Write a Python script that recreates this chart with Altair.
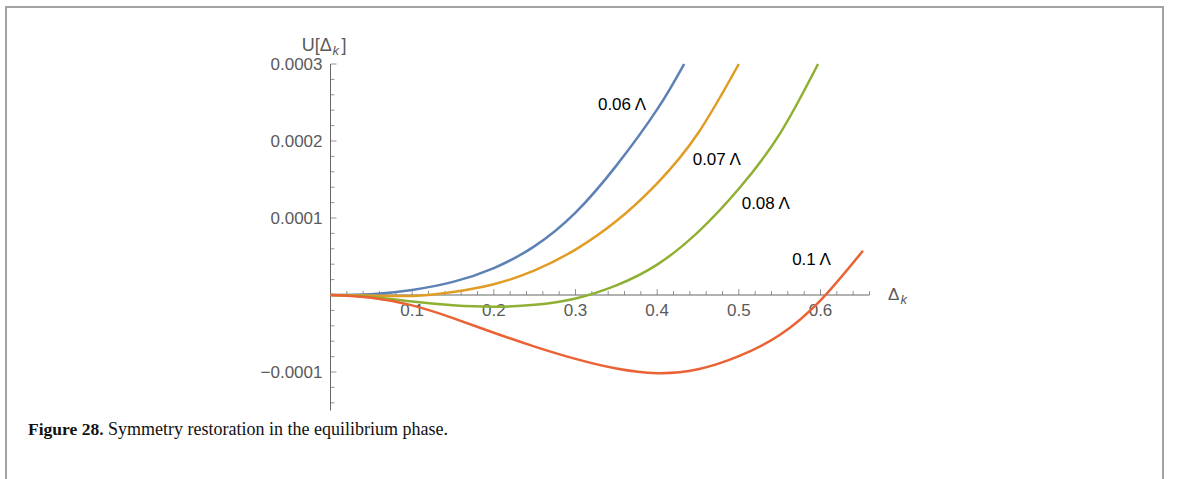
import altair as alt
import pandas as pd

# ---- data ----
series_names = ["0.06 Λ", "0.07 Λ", "0.08 Λ", "0.1 Λ"]
series_colors = ["#5E81B5", "#E19C24", "#8FB032", "#EB6235"]

blue_x = [0, 0.05, 0.1, 0.15, 0.2, 0.25, 0.3, 0.35, 0.4, 0.433]
blue_u = [0, 0.0000010, 0.0000065, 0.0000170, 0.0000350, 0.0000635, 0.0001070,
          0.0001680, 0.0002410, 0.0003]

orange_x = [0, 0.05, 0.1, 0.15, 0.2, 0.25, 0.3, 0.35, 0.4, 0.45, 0.5]
orange_u = [0, -0.0000008, -0.0000012, 0.0000040, 0.0000140, 0.0000320, 0.0000590,
            0.0000960, 0.0001450, 0.0002100, 0.0003]

green_x = [0, 0.05, 0.1, 0.15, 0.2, 0.25, 0.3, 0.35, 0.4, 0.45, 0.5, 0.55, 0.597]
green_u = [0, -0.0000025, -0.0000085, -0.0000133, -0.0000152, -0.0000128, -0.0000045,
           0.0000125, 0.0000395, 0.0000817, 0.0001380, 0.0002090, 0.0003]

red_x = [0, 0.05, 0.1, 0.15, 0.2, 0.25, 0.3, 0.35, 0.4, 0.45, 0.5, 0.55, 0.6, 0.652]
red_u = [0, -0.0000035, -0.0000135, -0.0000300, -0.0000490, -0.0000670, -0.0000830,
         -0.0000955, -0.0001015, -0.0000965, -0.0000795, -0.0000520, -0.0000070,
         0.0000575]

# curve label anchors (data units)
label_x = [0.357, 0.473, 0.533, 0.589]
label_u = [0.000247, 0.0001753, 0.0001182, 0.0000455]

# axes
x_major = [0.1, 0.2, 0.3, 0.4, 0.5, 0.6]
x_major_text = ["0.1", "0.2", "0.3", "0.4", "0.5", "0.6"]
x_minor = [0.02, 0.04, 0.06, 0.08, 0.12, 0.14, 0.16, 0.18, 0.22, 0.24, 0.26, 0.28,
           0.32, 0.34, 0.36, 0.38, 0.42, 0.44, 0.46, 0.48, 0.52, 0.54, 0.56, 0.58,
           0.62, 0.64, 0.66]
y_major = [-0.0001, 0.0001, 0.0002, 0.0003]
y_major_text = ["\u22120.0001", "0.0001", "0.0002", "0.0003"]
y_minor = [-0.00014, -0.00012, -0.00008, -0.00006, -0.00004, -0.00002,
           0.00002, 0.00004, 0.00006, 0.00008, 0.00012, 0.00014, 0.00016, 0.00018,
           0.00022, 0.00024, 0.00026, 0.00028]
x_range = [0, 0.66]
u_range = [-0.00015, 0.0003]

# ---- build tables ----
rows = []
for name, xs, us in zip(series_names, [blue_x, orange_x, green_x, red_x],
                        [blue_u, orange_u, green_u, red_u]):
    for a, b in zip(xs, us):
        rows.append({"series": name, "x": a, "u": b})
curves = pd.DataFrame(rows)

W, H = 539, 346.5
xs = alt.Scale(domain=x_range, nice=False, zero=False)
ys = alt.Scale(domain=u_range, nice=False, zero=False)
AX = "#666666"
TXT = "#5a5a5a"
SANS = "Liberation Sans"

def X(f="x"):
    return alt.X(f + ":Q", scale=xs, axis=None)

def Y(f="u"):
    return alt.Y(f + ":Q", scale=ys, axis=None)

frame = alt.Chart(pd.DataFrame({"d": [0]})).mark_rect(
    fill="white", fillOpacity=0, stroke="#a3a3a3", strokeWidth=2
).encode(x=alt.value(-324.5), x2=alt.value(832.5), y=alt.value(-57), y2=alt.value(430))

x_axis_line = alt.Chart(pd.DataFrame({"x": [x_range[0]], "x2": [x_range[1]], "u": [0]})).mark_rule(
    color=AX, strokeWidth=1).encode(x=X(), x2="x2:Q", y=Y())
y_axis_line = alt.Chart(pd.DataFrame({"x": [0], "u": [u_range[0]], "u2": [u_range[1]]})).mark_rule(
    color=AX, strokeWidth=1).encode(x=X(), y=Y(), y2="u2:Q")

xmaj = alt.Chart(pd.DataFrame({"x": x_major, "u": [0] * len(x_major)})).mark_tick(
    orient="vertical", size=6, thickness=1, yOffset=-3, color=AX).encode(x=X(), y=Y())
xmin = alt.Chart(pd.DataFrame({"x": x_minor, "u": [0] * len(x_minor)})).mark_tick(
    orient="vertical", size=4, thickness=1, yOffset=-2, color=AX).encode(x=X(), y=Y())
ymaj = alt.Chart(pd.DataFrame({"x": [0] * len(y_major), "u": y_major})).mark_tick(
    orient="horizontal", size=6, thickness=1, xOffset=3, color=AX).encode(x=X(), y=Y())
ymin = alt.Chart(pd.DataFrame({"x": [0] * len(y_minor), "u": y_minor})).mark_tick(
    orient="horizontal", size=4, thickness=1, xOffset=2, color=AX).encode(x=X(), y=Y())

xlab = alt.Chart(pd.DataFrame({"x": x_major, "u": [0] * len(x_major), "t": x_major_text})).mark_text(
    font=SANS, fontSize=17, color=TXT, align="center", baseline="top", dy=8
).encode(x=X(), y=Y(), text="t:N")
ylab = alt.Chart(pd.DataFrame({"x": [0] * len(y_major), "u": y_major, "t": y_major_text})).mark_text(
    font=SANS, fontSize=17, color=TXT, align="right", baseline="middle", dx=-8, dy=1
).encode(x=X(), y=Y(), text="t:N")

def txt(s, x, y, size=16, style="normal", weight="normal", font=SANS, color=TXT):
    return alt.Chart(pd.DataFrame({"t": [s]})).mark_text(
        font=font, fontSize=size, fontStyle=style, fontWeight=weight, color=color,
        align="left", baseline="alphabetic"
    ).encode(x=alt.value(x), y=alt.value(y), text="t:N")

ytitle = (txt("U[Δ", -28.8, -13, size=18) + txt("k", 2, -9, size=13, style="italic")
          + txt("]", 11, -13, size=18))
xtitle = txt("Δ", 557.5, 236, size=17) + txt("k", 570, 240, size=13, style="italic")

lines = alt.Chart(curves).mark_line(strokeWidth=2.5, interpolate="natural").encode(
    x=X(), y=Y(),
    color=alt.Color("series:N", scale=alt.Scale(domain=series_names, range=series_colors), legend=None),
    detail="series:N",
)

labels = alt.Chart(pd.DataFrame({"x": label_x, "u": label_u, "t": series_names})).mark_text(
    font=SANS, fontSize=17, color="#000000", align="center", baseline="middle"
).encode(x=X(), y=Y(), text="t:N")

caption = (txt("Figure 28.", -302.5, 371, size=17.5, weight="bold", font="Liberation Serif", color="#111111")
           + txt("Symmetry restoration in the equilibrium phase.", -222.5, 371, size=18,
                 font="Liberation Serif", color="#111111"))

chart = alt.layer(
    frame, xlab, ylab, x_axis_line, y_axis_line, xmin, xmaj, ymin, ymaj,
    ytitle, xtitle, lines, labels, caption
).properties(
    width=W, height=H,
    autosize=alt.AutoSizeParams(type="none"),
    padding={"left": 330.5, "top": 64, "right": 1179 - 330.5 - W, "bottom": 479 - 64 - H},
    background="white",
).configure_view(stroke=None)

chart.save("out.html", embed_options={"renderer": "svg", "actions": False})
